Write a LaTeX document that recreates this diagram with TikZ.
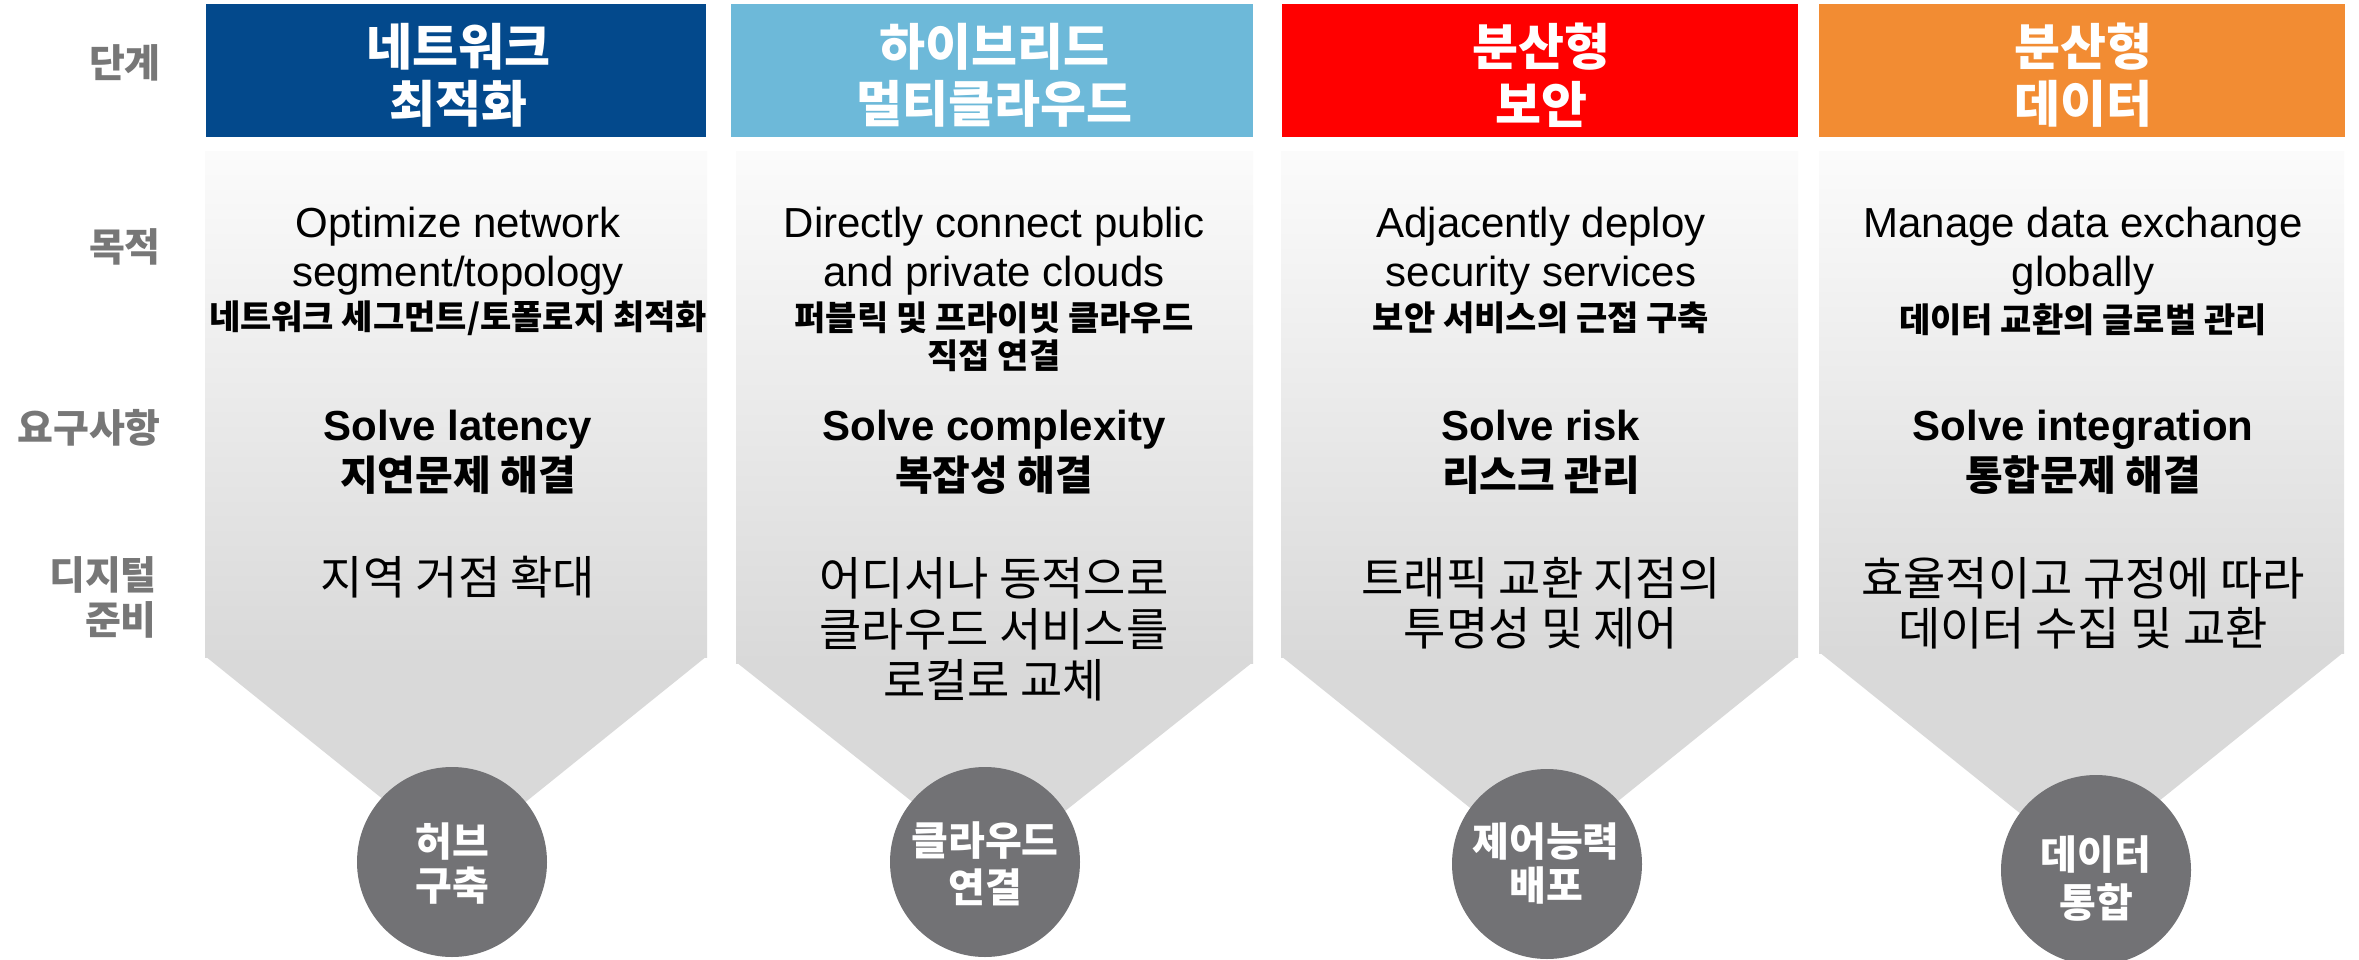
\documentclass[tikz,border=0pt]{standalone}
\usepackage{fontspec}
\setmainfont{Liberation Sans}
\newfontfamily\kr{Noto Sans CJK KR}
\definecolor{hblue}{HTML}{03498C}
\definecolor{hsky}{HTML}{6DB9D9}
\definecolor{hred}{HTML}{FF0000}
\definecolor{horange}{HTML}{F28C33}
\definecolor{bodytop}{HTML}{FBFBFB}
\definecolor{bodybot}{HTML}{D9D9D9}
\definecolor{circgray}{HTML}{727275}
\definecolor{lblgray}{HTML}{777777}
\tikzset{
  hdrbox/.style={rectangle, draw=none, inner sep=0pt, minimum height=133pt},
  hdrtxt/.style={font=\kr\bfseries\fontsize{50}{58}\selectfont, text=white, inner sep=0pt},
  lbl/.style={font=\kr\bfseries\fontsize{39}{46}\selectfont, text=lblgray, anchor=east, inner sep=0pt},
  en/.style={font=\fontsize{42}{50}\selectfont, anchor=base, inner sep=0pt},
  enb/.style={font=\bfseries\fontsize{42}{50}\selectfont, anchor=base, inner sep=0pt},
  krb/.style={font=\kr\bfseries\fontsize{34}{40}\selectfont, inner sep=0pt},
  krbig/.style={font=\kr\bfseries\fontsize{41}{48}\selectfont, inner sep=0pt},
  krr/.style={font=\kr\fontsize{46}{52}\selectfont, inner sep=0pt},
  circ/.style={circle, fill=circgray, minimum size=190pt, inner sep=0pt},
  ctxt/.style={font=\kr\bfseries\fontsize{40}{46}\selectfont, text=white, inner sep=0pt},
}
\begin{document}
\begin{tikzpicture}[x=1pt,y=-1pt]
\useasboundingbox (0,0) rectangle (2359,960);
\fill[white] (0,0) rectangle (2359,960);

% ---- bodies (gradient + taper)
\shade[top color=bodytop, bottom color=bodybot] (205,152) rectangle (707,657);
\fill[bodybot] (205,656) -- (707,656) -- (456,858) -- cycle;
\shade[top color=bodytop, bottom color=bodybot] (736,152) rectangle (1253,663);
\fill[bodybot] (736,662) -- (1253,662) -- (994.5,867) -- cycle;
\shade[top color=bodytop, bottom color=bodybot] (1281,152) rectangle (1798,657);
\fill[bodybot] (1281,656) -- (1798,656) -- (1540,864) -- cycle;
\shade[top color=bodytop, bottom color=bodybot] (1819,152) rectangle (2344,653);
\fill[bodybot] (1819,652) -- (2344,652) -- (2082,863) -- cycle;

% ---- headers
\node[hdrbox, fill=hblue, minimum width=500pt] (h1) at (456,70.5) {};
\node[hdrbox, fill=hsky, minimum width=522pt] (h2) at (992,70.5) {};
\node[hdrbox, fill=hred, minimum width=516pt] (h3) at (1540,70.5) {};
\node[hdrbox, fill=horange, minimum width=526pt] (h4) at (2082,70.5) {};
\node[hdrtxt] (h1a) at (458,47) {네트워크};
\node[hdrtxt] (h1b) at (458,104) {최적화};
\node[hdrtxt] (h2a) at (994,47) {하이브리드};
\node[hdrtxt] (h2b) at (994,104) {멀티클라우드};
\node[hdrtxt] (h3a) at (1541,47) {분산형};
\node[hdrtxt] (h3b) at (1541,104) {보안};
\node[hdrtxt] (h4a) at (2083,47) {분산형};
\node[hdrtxt] (h4b) at (2083,104) {데이터};

% ---- row labels
\node[lbl] (l1) at (161,63) {단계};
\node[lbl] (l2) at (161,247) {목적};
\node[lbl] (l3) at (161,428) {요구사항};
\node[lbl] (l4a) at (157,575) {디지털};
\node[lbl] (l4b) at (157,620) {준비};

% ---- row 2: purpose
\node[en] (p1a) at (458,237) {Optimize network};
\node[en] (p1b) at (458,287) {segment/topology};
\node[krb] (p1c) at (458,318) {네트워크 세그먼트/토폴로지 최적화};
\node[en] (p2a) at (994,237) {Directly connect public};
\node[en] (p2b) at (994,287) {and private clouds};
\node[krb] (p2c) at (994,318) {퍼블릭 및 프라이빗 클라우드};
\node[krb] (p2d) at (994,356) {직접 연결};
\node[en] (p3a) at (1541,237) {Adjacently deploy};
\node[en] (p3b) at (1541,287) {security services};
\node[krb] (p3c) at (1541,318) {보안 서비스의 근접 구축};
\node[en] (p4a) at (2083,237) {Manage data exchange};
\node[en] (p4b) at (2083,287) {globally};
\node[krb] (p4c) at (2083,320) {데이터 교환의 글로벌 관리};

% ---- row 3: requirements
\node[enb] (r1a) at (458,440) {Solve latency};
\node[krbig] (r1b) at (458,475) {지연문제 해결};
\node[enb] (r2a) at (994,440) {Solve complexity};
\node[krbig] (r2b) at (994,475) {복잡성 해결};
\node[enb] (r3a) at (1541,440) {Solve risk};
\node[krbig] (r3b) at (1541,475) {리스크 관리};
\node[enb] (r4a) at (2083,440) {Solve integration};
\node[krbig] (r4b) at (2083,475) {통합문제 해결};

% ---- row 4: digital readiness
\node[krr] (d1a) at (458,577) {지역 거점 확대};
\node[krr] (d2a) at (994,578) {어디서나 동적으로};
\node[krr] (d2b) at (994,629) {클라우드 서비스를};
\node[krr] (d2c) at (994,680) {로컬로 교체};
\node[krr] (d3a) at (1541,578) {트래픽 교환 지점의};
\node[krr] (d3b) at (1541,628) {투명성 및 제어};
\node[krr] (d4a) at (2083,578) {효율적이고 규정에 따라};
\node[krr] (d4b) at (2083,628) {데이터 수집 및 교환};

% ---- circles
\node[circ] (c1) at (452,862) {};
\node[circ] (c2) at (985,862) {};
\node[circ] (c3) at (1547,864) {};
\node[circ] (c4) at (2096,870) {};
\node[ctxt] (c1a) at (452,842) {허브};
\node[ctxt] (c1b) at (452,886) {구축};
\node[ctxt] (c2a) at (985,841) {클라우드};
\node[ctxt] (c2b) at (985,887) {연결};
\node[ctxt] (c3a) at (1546,842) {제어능력};
\node[ctxt] (c3b) at (1546,885) {배포};
\node[ctxt] (c4a) at (2096,855) {데이터};
\node[ctxt] (c4b) at (2096,902) {통합};
\end{tikzpicture}
\end{document}
